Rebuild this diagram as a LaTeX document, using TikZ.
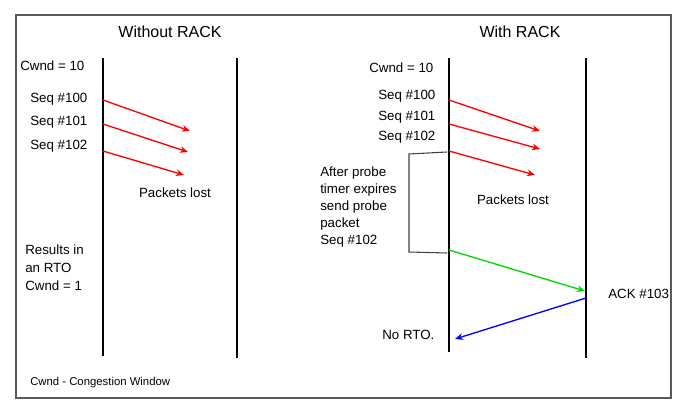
\documentclass[tikz,border=0pt]{standalone}
\usepackage{fontspec}
\setmainfont{Liberation Sans}
\usetikzlibrary{arrows.meta}
\begin{document}
\begin{tikzpicture}[x=0.75pt,y=-0.75pt,
  txt/.style={inner sep=0pt,anchor=west,font=\fontsize{10}{12}\selectfont},
  title/.style={inner sep=0pt,font=\fontsize{12}{14}\selectfont},
  life/.style={line width=2.2pt},
  msg/.style={line width=1pt,-{Stealth[length=6pt,width=5pt]}},
  lost/.style={msg,red},
  brk/.style={draw=black!75,line width=0.8pt}]
\useasboundingbox (0,0) rectangle (700,418);
\draw[black!65,line width=1.2pt] (16,15) rectangle (671,398);
\node[title] (t1) at (170,32) {Without RACK};
\node[title] (t2) at (520,32) {With RACK};
% lifelines
\coordinate (l1a) at (103,58); \coordinate (l1b) at (103,356);
\coordinate (l2a) at (237,58); \coordinate (l2b) at (237,358);
\coordinate (r1a) at (449,58); \coordinate (r1b) at (449,352);
\coordinate (r2a) at (586,58); \coordinate (r2b) at (586,358);
\draw[life] (l1a) -- (l1b); \draw[life] (l2a) -- (l2b);
\draw[life] (r1a) -- (r1b); \draw[life] (r2a) -- (r2b);
% left
\node[txt] (lc) at (20,66) {Cwnd = 10};
\node[txt] (ls0) at (30,99) {Seq \#100};
\node[txt] (ls1) at (30,122) {Seq \#101};
\node[txt] (ls2) at (30,146) {Seq \#102};
\coordinate (la0) at (103,100); \coordinate (lb0) at (190,131);
\coordinate (la1) at (103,124); \coordinate (lb1) at (188,152);
\coordinate (la2) at (103,151); \coordinate (lb2) at (184,175);
\draw[lost] (la0) -- (lb0); \draw[lost] (la1) -- (lb1); \draw[lost] (la2) -- (lb2);
\node[txt,anchor=center] (lpl) at (175,193) {Packets lost};
\node[txt,align=left,anchor=north west,font=\fontsize{10}{13.5}\selectfont] (lr) at (25,245) {Results in\\an RTO\\Cwnd = 1};
\node[txt,font=\fontsize{8.5}{10}\selectfont] (leg) at (30,383) {Cwnd - Congestion Window};
% right
\node[txt] (rc) at (369,68) {Cwnd = 10};
\node[txt] (rs0) at (378,96) {Seq \#100};
\node[txt] (rs1) at (378,117) {Seq \#101};
\node[txt] (rs2) at (378,137) {Seq \#102};
\coordinate (ra0) at (449,100); \coordinate (rb0) at (540,131);
\coordinate (ra1) at (449,124); \coordinate (rb1) at (540,149);
\coordinate (ra2) at (449,151); \coordinate (rb2) at (535,175);
\draw[lost] (ra0) -- (rb0); \draw[lost] (ra1) -- (rb1); \draw[lost] (ra2) -- (rb2);
\node[txt,anchor=center] (rpl) at (513,200) {Packets lost};
\node[txt,align=left,anchor=north west,font=\fontsize{10}{12.7}\selectfont] (ap) at (320,167) {After probe\\timer expires\\send probe\\packet\\Seq \#102};
\coordinate (b1) at (447,152); \coordinate (b2) at (409,154);
\coordinate (b3) at (409,252); \coordinate (b4) at (447,253);
\draw[brk] (b1) -- (b2) -- (b3) -- (b4);
\coordinate (g0) at (449,250); \coordinate (g1) at (585,291);
\draw[msg,green!85!black] (g0) -- (g1);
\node[txt] (ack) at (608,294) {ACK \#103};
\coordinate (bl0) at (586,298); \coordinate (bl1) at (455,339);
\draw[msg,blue] (bl0) -- (bl1);
\node[txt] (nrto) at (382,335) {No RTO.};
\end{tikzpicture}
\end{document}
